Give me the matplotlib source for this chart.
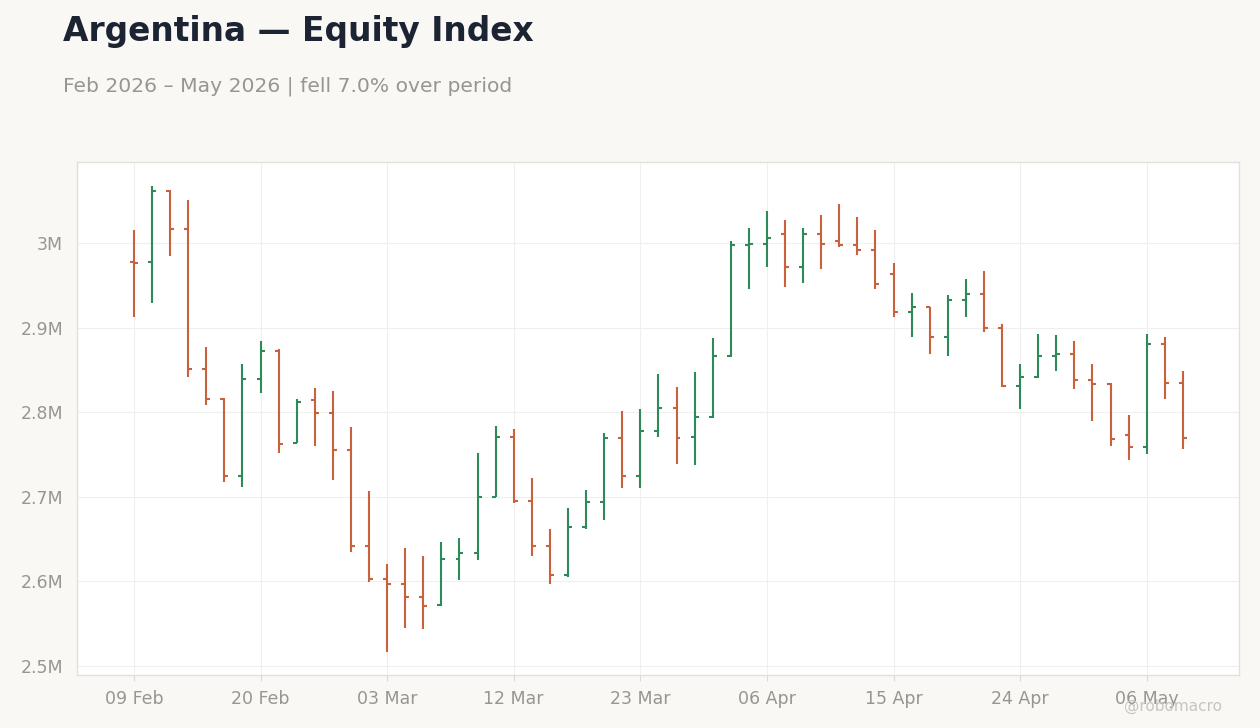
import matplotlib.pyplot as plt
from matplotlib.ticker import FuncFormatter
import numpy as np

# OHLC values in millions, one bar per session
opens = [2.977, 2.977, 3.061, 3.017, 2.851, 2.816, 2.724, 2.839, 2.872, 2.764,
         2.814, 2.799, 2.755, 2.642, 2.603, 2.597, 2.581, 2.572, 2.627, 2.633,
         2.700, 2.771, 2.695, 2.642, 2.607, 2.664, 2.694, 2.769, 2.725, 2.778,
         2.805, 2.771, 2.794, 2.866, 2.998, 2.999, 3.011, 2.972, 3.011, 3.002,
         2.998, 2.992, 2.963, 2.918, 2.924, 2.889, 2.932, 2.940, 2.899, 2.831,
         2.841, 2.866, 2.869, 2.838, 2.833, 2.773, 2.759, 2.881, 2.834]
highs = [3.015, 3.067, 3.062, 3.051, 2.877, 2.817, 2.857, 2.884, 2.875, 2.815,
         2.829, 2.825, 2.783, 2.707, 2.621, 2.640, 2.630, 2.647, 2.651, 2.752,
         2.784, 2.780, 2.722, 2.662, 2.687, 2.708, 2.775, 2.801, 2.804, 2.845,
         2.830, 2.848, 2.888, 3.002, 3.018, 3.038, 3.027, 3.018, 3.033, 3.046,
         3.031, 3.015, 2.976, 2.941, 2.924, 2.939, 2.957, 2.967, 2.904, 2.857,
         2.892, 2.891, 2.884, 2.857, 2.834, 2.797, 2.892, 2.889, 2.849]
lows = [2.913, 2.929, 2.985, 2.842, 2.809, 2.718, 2.711, 2.823, 2.752, 2.763,
        2.760, 2.720, 2.635, 2.599, 2.517, 2.545, 2.544, 2.571, 2.602, 2.625,
        2.700, 2.693, 2.630, 2.597, 2.605, 2.662, 2.673, 2.710, 2.710, 2.771,
        2.739, 2.737, 2.793, 2.865, 2.945, 2.972, 2.948, 2.953, 2.969, 2.995,
        2.986, 2.945, 2.913, 2.889, 2.869, 2.866, 2.913, 2.895, 2.830, 2.804,
        2.840, 2.849, 2.827, 2.789, 2.760, 2.744, 2.750, 2.815, 2.757]
closes = [2.976, 3.061, 3.017, 2.851, 2.816, 2.724, 2.839, 2.872, 2.762, 2.812,
          2.799, 2.755, 2.642, 2.603, 2.597, 2.581, 2.571, 2.627, 2.633, 2.700,
          2.771, 2.695, 2.642, 2.607, 2.664, 2.694, 2.769, 2.725, 2.778, 2.805,
          2.770, 2.794, 2.866, 2.998, 2.999, 3.006, 2.972, 3.011, 2.999, 2.998,
          2.992, 2.951, 2.918, 2.924, 2.889, 2.932, 2.940, 2.899, 2.831, 2.841,
          2.866, 2.869, 2.838, 2.833, 2.768, 2.759, 2.881, 2.834, 2.769]

tick_pos = [0, 7, 14, 21, 28, 35, 42, 49, 56]
tick_labels = ['09 Feb', '20 Feb', '03 Mar', '12 Mar', '23 Mar',
               '06 Apr', '15 Apr', '24 Apr', '06 May']

up_col = '#2e8b57'
down_col = '#c9613f'
grey = '#99958f'

fig = plt.figure(figsize=(12.6, 7.28), dpi=100, facecolor='#f9f8f5')
ax = fig.add_axes([0.0611, 0.0728, 0.9222, 0.7047])
ax.set_facecolor('white')

x = np.arange(len(opens))
o = np.array(opens) * 1e6
h = np.array(highs) * 1e6
l = np.array(lows) * 1e6
c = np.array(closes) * 1e6
w = 0.22
for i in x:
    col = up_col if c[i] >= o[i] else down_col
    ax.vlines(i, l[i], h[i], color=col, lw=1.5, zorder=3)
    ax.hlines(o[i], i - w, i, color=col, lw=1.5, zorder=3)
    ax.hlines(c[i], i, i + w, color=col, lw=1.5, zorder=3)

ax.set_xlim(-3.15, 61.1)
ax.set_ylim(2.4894e6, 3.0957e6)
ax.set_yticks(np.arange(2.5e6, 3.01e6, 1e5))
ax.yaxis.set_major_formatter(FuncFormatter(lambda v, p: f'{v/1e6:g}M'))
ax.set_xticks(tick_pos)
ax.set_xticklabels(tick_labels)
ax.tick_params(axis='x', colors='#dddad5', labelcolor=grey, labelsize=12.5, length=4, width=0.8, pad=7)
ax.tick_params(axis='y', length=0, labelcolor=grey, labelsize=12.5, pad=10)
ax.grid(True, color='#efefef', lw=0.8)
ax.set_axisbelow(True)
for s in ax.spines.values():
    s.set_color('#e3e0db')
    s.set_linewidth(1)

fig.text(0.05, 0.943, 'Argentina — Equity Index', fontsize=23.7, fontweight='bold',
         color='#1c2333', va='baseline')
fig.text(0.05, 0.874, 'Feb 2026 – May 2026 | fell 7.0% over period', fontsize=14.6,
         color=grey, va='baseline')
fig.text(0.97, 0.024, '@robomacro', fontsize=11, color='#c8c5c0', ha='right', va='baseline')

fig.savefig('out.png', dpi=100, facecolor=fig.get_facecolor())
